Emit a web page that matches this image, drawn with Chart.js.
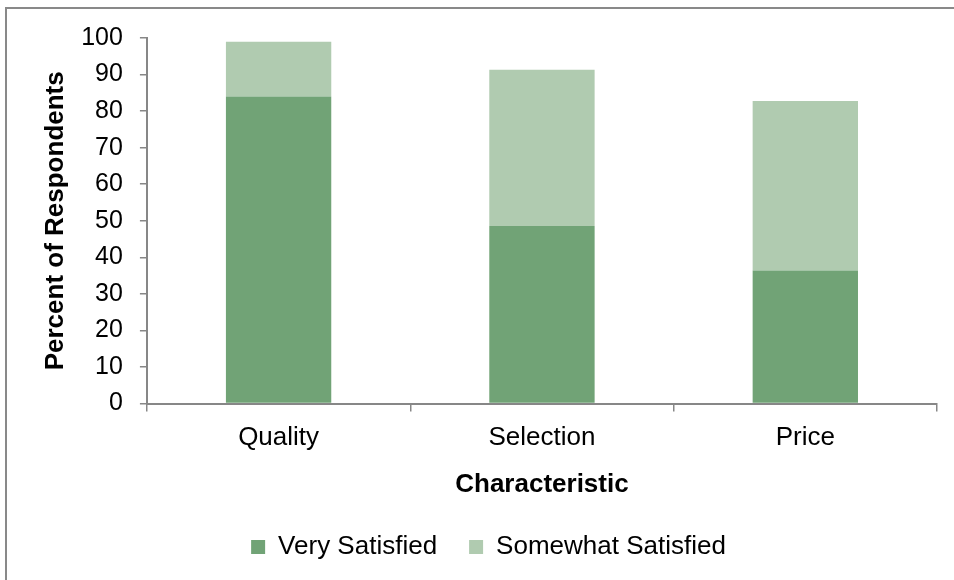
<!DOCTYPE html>
<html>
<head>
<meta charset="utf-8">
<script src="https://cdn.jsdelivr.net/npm/chart.js@4/dist/chart.umd.min.js"></script>
<style>
  html, body { margin: 0; padding: 0; background: #fff; }
  #wrap { width: 954px; height: 580px; }
</style>
</head>
<body>
<div id="wrap"><canvas id="chart" width="954" height="580"></canvas></div>
<script>
// Survey results: share of respondents satisfied with each characteristic
const categories = ['Quality', 'Selection', 'Price'];
const verySatisfied = [84, 48.6, 36.4];
const somewhatSatisfied = [15, 42.7, 46.4];
const seriesNames = ['Very Satisfied', 'Somewhat Satisfied'];
const yTicks = [0, 10, 20, 30, 40, 50, 60, 70, 80, 90, 100];

const FONT = '"Liberation Sans", Arial, sans-serif';
const AXIS_GRAY = '#878787';

// Thin gray frame around the whole chart
const framePlugin = {
  id: 'frame',
  beforeDraw(chart) {
    const ctx = chart.ctx;
    ctx.save();
    ctx.fillStyle = '#ffffff';
    ctx.fillRect(0, 0, chart.width, chart.height);
    ctx.strokeStyle = '#898989';
    ctx.lineWidth = 2;
    ctx.strokeRect(6, 8, chart.width + 20, chart.height + 20);
    ctx.restore();
  }
};

new Chart(document.getElementById('chart'), {
  type: 'bar',
  data: {
    labels: categories,
    datasets: [
      { label: seriesNames[0], data: verySatisfied, backgroundColor: '#71a376', borderWidth: 0 },
      { label: seriesNames[1], data: somewhatSatisfied, backgroundColor: '#b0cbb0', borderWidth: 0 }
    ]
  },
  options: {
    responsive: false,
    animation: false,
    devicePixelRatio: 1,
    layout: { padding: { left: 40, right: 17, top: 38, bottom: 10 } },
    datasets: { bar: { categoryPercentage: 1.0, barPercentage: 0.4 } },
    plugins: {
      legend: {
        position: 'bottom',
        labels: {
          font: { family: FONT, size: 26 },
          color: '#000',
          boxWidth: 14,
          boxHeight: 14,
          padding: 32
        }
      },
      tooltip: { enabled: false }
    },
    scales: {
      x: {
        stacked: true,
        grid: { display: true, drawOnChartArea: false, drawTicks: true, tickLength: 8, color: AXIS_GRAY, lineWidth: 1.5, offset: true },
        border: { display: true, color: AXIS_GRAY, width: 2 },
        ticks: { font: { family: FONT, size: 26 }, color: '#000', padding: 11 },
        title: {
          display: true, text: 'Characteristic', color: '#000',
          font: { family: FONT, size: 26, weight: 'bold' },
          padding: { top: 4, bottom: 2 }
        }
      },
      y: {
        stacked: true,
        min: 0,
        max: 100,
        afterBuildTicks(scale) { scale.ticks = yTicks.map(v => ({ value: v })); },
        grid: { display: true, drawOnChartArea: false, drawTicks: true, tickLength: 7, color: AXIS_GRAY, lineWidth: 1.5 },
        border: { display: true, color: AXIS_GRAY, width: 2 },
        ticks: { font: { family: FONT, size: 25 }, color: '#000', padding: 17 },
        title: {
          display: true, text: 'Percent of Respondents', color: '#000',
          font: { family: FONT, size: 26, weight: 'bold' },
          padding: { top: 0, bottom: -7 }
        }
      }
    }
  },
  plugins: [framePlugin]
});
</script>
</body>
</html>
